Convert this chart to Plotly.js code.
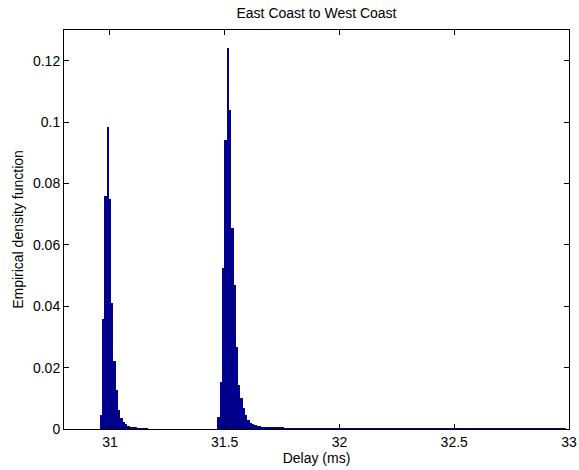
<!DOCTYPE html>
<html>
<head>
<meta charset="utf-8">
<script src="https://cdn.plot.ly/plotly-3.0.1.min.js"></script>
<style>html,body{margin:0;padding:0;background:#fff;}#chart{width:579px;height:470px;}</style>
</head>
<body>
<div id="chart"></div>
<script>
// Histogram bins: first bin centre and bin width (ms)
const binStart = 30.96;
const binWidth = 0.01006;

// Empirical density per bin
const peak1 = [0.0045, 0.036, 0.076, 0.0985, 0.075, 0.041, 0.022, 0.0127, 0.0062, 0.0036,
               0.0022, 0.0015, 0.0011, 0.0008, 0.0006, 0.0005, 0.0004, 0.0003, 0.0003, 0.0002,
               0.0002, 0.0001, 0.0001];
const gap = [0,0,0,0,0,0,0,0,0,0, 0,0,0,0,0,0,0,0,0,0, 0,0,0,0,0,0,0,0];
const peak2 = [0.004, 0.0153, 0.0525, 0.094, 0.124, 0.104, 0.0655, 0.047, 0.0267, 0.0143,
               0.010, 0.0068, 0.0045, 0.003, 0.0021, 0.0016, 0.0013, 0.0011, 0.0009, 0.0008,
               0.0007];
const tail = [0.0006, 0.0006, 0.0006, 0.0005, 0.0005, 0.0005, 0.0005, 0.0005, 0.0004, 0.0004,
              0.0004, 0.0004, 0.0004, 0.0004, 0.0004, 0.0004, 0.0004, 0.0004, 0.0004, 0.0004,
              0.0004, 0.0004, 0.0004, 0.0003, 0.0003, 0.0003, 0.0003, 0.0003, 0.0003, 0.0003,
              0.0003, 0.0003, 0.0003, 0.0003, 0.0003, 0.0003, 0.0003, 0.0003, 0.0003, 0.0003,
              0.0003, 0.0003, 0.0003, 0.0003, 0.0003, 0.0003, 0.0003, 0.0003, 0.0003, 0.0003,
              0.0003, 0.0003, 0.0003, 0.0003, 0.0003, 0.0003, 0.0003, 0.0003, 0.0003, 0.0003,
              0.0003, 0.0003, 0.0003, 0.0003, 0.0003, 0.0003, 0.0003, 0.0003, 0.0003, 0.0003,
              0.0003, 0.0003, 0.0003, 0.0003, 0.0003, 0.0003, 0.0003, 0.0003, 0.0003, 0.0003,
              0.0003, 0.0003, 0.0003, 0.0003, 0.0003, 0.0003, 0.0003, 0.0003, 0.0003, 0.0003,
              0.0003, 0.0003, 0.0003, 0.0003, 0.0003, 0.0003, 0.0003, 0.0003, 0.0003, 0.0003,
              0.0003, 0.0003, 0.0003, 0.0003, 0.0003, 0.0003, 0.0003, 0.0003, 0.0003, 0.0003,
              0.0003, 0.0003, 0.0003, 0.0003, 0.0003, 0.0003, 0.0003, 0.0003, 0.0003, 0.0003,
              0.0003, 0.0003, 0.0003, 0.0003, 0.0003, 0.0003, 0.0003, 0.0003, 0.0003, 0.0003];

const xTicks = [31, 31.5, 32, 32.5, 33];
const xTickText = ['31', '31.5', '32', '32.5', '33'];
const yTicks = [0, 0.02, 0.04, 0.06, 0.08, 0.1, 0.12];
const yTickText = ['0', '0.02', '0.04', '0.06', '0.08', '0.1', '0.12'];

const density = peak1.concat(gap, peak2, tail);

const font = {family: 'Liberation Sans, Arial, sans-serif', size: 14, color: '#000'};

const trace = {
  type: 'bar',
  x0: binStart,
  dx: binWidth,
  y: density,
  marker: {color: 'rgb(0,0,140)', line: {width: 0}},
  hoverinfo: 'x+y'
};

const axisCommon = {
  showline: true, linecolor: '#000', linewidth: 1, mirror: 'ticks',
  ticks: 'inside', ticklen: 5, tickcolor: '#000', tickwidth: 1,
  showgrid: false, zeroline: false, tickfont: font
};

const layout = {
  width: 579, height: 470,
  margin: {l: 64, r: 10, t: 30, b: 41},
  paper_bgcolor: '#fff', plot_bgcolor: '#fff',
  font: font,
  bargap: 0,
  showlegend: false,
  title: {text: 'East Coast to West Coast', font: font, xref: 'paper', x: 0.5, xanchor: 'center', yref: 'container', y: 0.973, yanchor: 'middle'},
  xaxis: Object.assign({}, axisCommon, {
    range: [30.8, 33], tickvals: xTicks, ticktext: xTickText,
    title: {text: 'Delay (ms)', font: font, standoff: 0}
  }),
  yaxis: Object.assign({}, axisCommon, {
    range: [0, 0.13], tickvals: yTicks, ticktext: yTickText,
    title: {text: 'Empirical density function', font: font, standoff: 6}
  })
};

Plotly.newPlot('chart', [trace], layout, {displayModeBar: false, staticPlot: true});
</script>
</body>
</html>
